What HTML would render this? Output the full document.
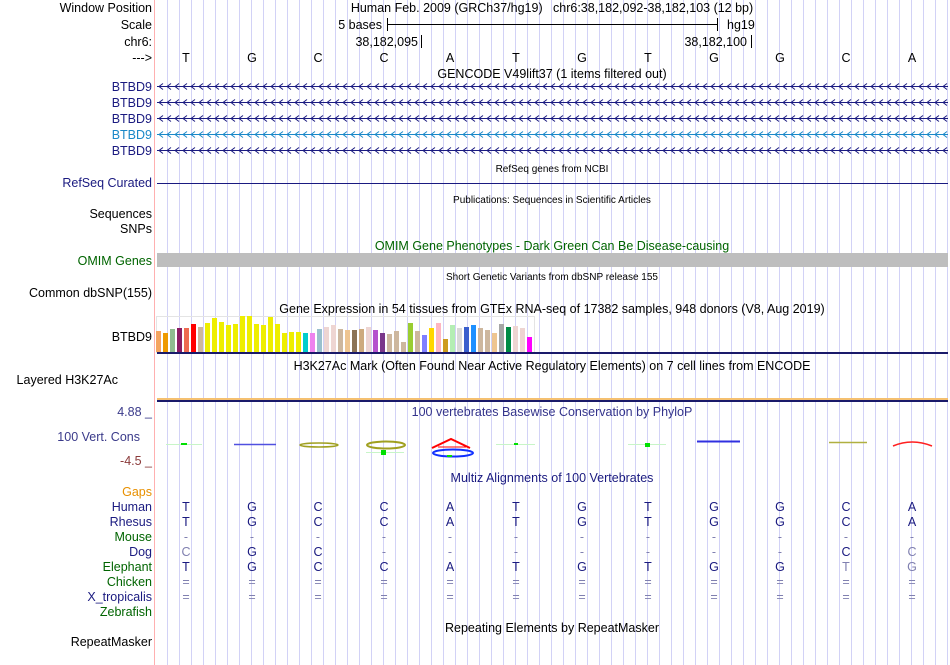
<!DOCTYPE html>
<html><head><meta charset="utf-8"><style>
html,body{margin:0;padding:0;background:#fff;}
svg{display:block;font-family:"Liberation Sans",sans-serif;}
</style></head><body>
<svg id="c" width="950" height="665" viewBox="0 0 950 665">
<g id="grid"></g>
<line x1="154.5" y1="0" x2="154.5" y2="665" stroke="#ffb0b0" stroke-width="1"/>
<g font-size="12.5" text-anchor="end" fill="#000">
<text x="152" y="12">Window Position</text>
<text x="152" y="29">Scale</text>
<text x="152" y="46">chr6:</text>
<text x="152" y="62">---&gt;</text>
<text x="152" y="91" fill="#1a1a80">BTBD9</text>
<text x="152" y="107" fill="#1a1a80">BTBD9</text>
<text x="152" y="123" fill="#1a1a80">BTBD9</text>
<text x="152" y="139" fill="#1a88c8">BTBD9</text>
<text x="152" y="155" fill="#1a1a80">BTBD9</text>
<text x="152" y="187" fill="#1a1a80">RefSeq Curated</text>
<text x="152" y="218">Sequences</text>
<text x="152" y="233">SNPs</text>
<text x="152" y="265" fill="#006400">OMIM Genes</text>
<text x="152" y="297">Common dbSNP(155)</text>
<text x="152" y="341">BTBD9</text>
<text x="118" y="384">Layered H3K27Ac</text>
<text x="140" y="441" fill="#3a3a8a">100 Vert. Cons</text>
<text x="152" y="416" fill="#3a3a8a">4.88 _</text>
<text x="152" y="465" fill="#8b3a3a">-4.5 _</text>
<text x="152" y="496" fill="#e89000">Gaps</text>
<text x="152" y="511" fill="#1a1a80">Human</text>
<text x="152" y="526" fill="#1a1a80">Rhesus</text>
<text x="152" y="541" fill="#006400">Mouse</text>
<text x="152" y="556" fill="#1a1a80">Dog</text>
<text x="152" y="571" fill="#006400">Elephant</text>
<text x="152" y="586" fill="#006400">Chicken</text>
<text x="152" y="601" fill="#1a1a80">X_tropicalis</text>
<text x="152" y="616" fill="#006400">Zebrafish</text>
<text x="152" y="646">RepeatMasker</text>
</g>
<g font-size="12.5" fill="#000">
<text x="552" y="12" text-anchor="middle">Human Feb. 2009 (GRCh37/hg19) &#160;&#160;chr6:38,182,092-38,182,103 (12 bp)</text>
<text x="382" y="29" text-anchor="end">5 bases</text>
<line x1="387.5" y1="18" x2="387.5" y2="31" stroke="#000"/>
<line x1="387" y1="24.5" x2="718" y2="24.5" stroke="#000"/>
<line x1="717.5" y1="18" x2="717.5" y2="31" stroke="#000"/>
<text x="727" y="29">hg19</text>
<text x="418" y="46" text-anchor="end">38,182,095</text>
<line x1="421.5" y1="35" x2="421.5" y2="48" stroke="#000"/>
<text x="747" y="46" text-anchor="end">38,182,100</text>
<line x1="751.5" y1="35" x2="751.5" y2="48" stroke="#000"/>
<text x="552" y="78" text-anchor="middle">GENCODE V49lift37 (1 items filtered out)</text>
<text x="552" y="172" text-anchor="middle" font-size="10">RefSeq genes from NCBI</text>
<text x="552" y="203" text-anchor="middle" font-size="10">Publications: Sequences in Scientific Articles</text>
<text x="552" y="250" text-anchor="middle" fill="#006400">OMIM Gene Phenotypes - Dark Green Can Be Disease-causing</text>
<text x="552" y="280" text-anchor="middle" font-size="10">Short Genetic Variants from dbSNP release 155</text>
<text x="552" y="313" text-anchor="middle">Gene Expression in 54 tissues from GTEx RNA-seq of 17382 samples, 948 donors (V8, Aug 2019)</text>
<text x="552" y="370" text-anchor="middle">H3K27Ac Mark (Often Found Near Active Regulatory Elements) on 7 cell lines from ENCODE</text>
<text x="552" y="416" text-anchor="middle" fill="#33338b">100 vertebrates Basewise Conservation by PhyloP</text>
<text x="552" y="482" text-anchor="middle" fill="#1a1a80">Multiz Alignments of 100 Vertebrates</text>
<text x="552" y="632" text-anchor="middle">Repeating Elements by RepeatMasker</text>
</g>
<g id="bases" font-size="12.5" fill="#000" text-anchor="middle"></g>
<g id="genes"></g>
<line x1="157" y1="183.5" x2="948" y2="183.5" stroke="#1a1a80"/>
<rect x="157" y="253" width="791" height="14" fill="#bebebe"/>
<rect x="156.5" y="316.5" width="378" height="36" fill="none" stroke="#e4e4e4"/>
<g id="gtex"></g>
<rect x="157" y="352" width="791" height="2" fill="#1a1a6a"/>
<rect x="157" y="398" width="791" height="2" fill="#f5c070"/>
<rect x="157" y="400" width="791" height="2" fill="#1a1a6a"/>
<g id="cons">
<line x1="166" y1="444.5" x2="202" y2="444.5" stroke="#c8f5c8"/><rect x="181" y="443" width="6" height="2" fill="#00e000"/>
<line x1="234" y1="444.5" x2="276" y2="444.5" stroke="#5050e0" stroke-width="1.5"/>
<ellipse cx="319" cy="445" rx="19" ry="2" fill="none" stroke="#a0a020" stroke-width="1.5"/>
<line x1="366" y1="452.5" x2="404" y2="452.5" stroke="#c8f5c8"/>
<ellipse cx="386" cy="445" rx="19" ry="3.5" fill="none" stroke="#a0a020" stroke-width="2"/>
<rect x="381" y="450" width="5" height="5" fill="#00e000"/>
<path d="M432 448 L451 439 L470 448" fill="none" stroke="#ff0000" stroke-width="2"/>
<line x1="438" y1="447" x2="466" y2="447" stroke="#ff0000"/>
<ellipse cx="453" cy="453" rx="20" ry="3.5" fill="none" stroke="#1030ff" stroke-width="2"/>
<rect x="447" y="455" width="5" height="2" fill="#00e000"/>
<line x1="496" y1="444.5" x2="535" y2="444.5" stroke="#c8f5c8"/><rect x="514" y="443" width="4" height="2" fill="#00e000"/>
<line x1="628" y1="444.5" x2="666" y2="444.5" stroke="#c8f5c8"/><rect x="645" y="443" width="5" height="4" fill="#00e000"/>
<line x1="697" y1="441.5" x2="740" y2="441.5" stroke="#3030e0" stroke-width="2"/>
<line x1="829" y1="442.5" x2="867" y2="442.5" stroke="#b0b040" stroke-width="1.5"/>
<path d="M893 446 Q912 438 932 446" fill="none" stroke="#ff2020" stroke-width="1.5"/>
</g>
<g id="multiz" font-size="12.5" text-anchor="middle"></g>
</svg>
<script>
const bases = ["T","G","C","C","A","T","G","T","G","G","C","A"];
const gtexValues = [21,19,23,24,24,28,25,29,34,30,27,28,36,36,28,27,35,28,19,20,20,19,19,23,25,27,23,22,22,23,25,22,19,18,21,10,29,21,17,24,29,13,27,24,25,27,24,22,19,28,25,26,24,15];
const gtexColors = ["#f4a460","#ee9a00","#8fbc8f","#8b1c62","#ee6a50","#ff0000","#cdb79e","#eeee00","#eeee00","#eeee00","#eeee00","#eeee00","#eeee00","#eeee00","#eeee00","#eeee00","#eeee00","#eeee00","#eeee00","#eeee00","#eeee00","#00cdcd","#ee82ee","#9ac0cd","#eed5d2","#eed5d2","#cdb79e","#eec591","#8b7355","#cdaa7d","#eed5d2","#b452cd","#7a378b","#cdb79e","#cdb79e","#cdb79e","#9acd32","#cdb79e","#7f7fff","#ffd700","#ffb6c1","#cd9b1d","#b4eeb4","#d9d9d9","#3a5fcd","#1e90ff","#cdb79e","#cdb79e","#eec591","#a6a6a6","#008b45","#eed5d2","#eed5d2","#ff00ff"];
const species = ["Human","Rhesus","Mouse","Dog","Elephant","Chicken","X_tropicalis"];
const alignRows = [
 "TGCCATGTGGCA",
 "TGCCATGTGGCA",
 "------------",
 "CGC-------CC",
 "TGCCATGTGGTG",
 "============",
 "============"];
const lightMask = [
 "000000000000",
 "000000000000",
 "111111111111",
 "100111111101",
 "000000000011",
 "111111111111",
 "111111111111"];
const NS="http://www.w3.org/2000/svg";
const baseX = i => 186 + i*66;
const gtexX = i => 156 + i*7;
const gtexY = v => 352 - v;
function mk(tag, attrs, parent){const e=document.createElementNS(NS,tag);for(const k in attrs)e.setAttribute(k,attrs[k]);parent.appendChild(e);return e;}
const grid=document.getElementById('grid');
for(let x=167;x<950;x+=12){
 const l=mk('line',{x1:x+0.5,y1:0,x2:x+0.5,y2:665,stroke:'#d2d2f6'},grid);
 
 
}
const bg=document.getElementById('bases');
bases.forEach((b,i)=>{const t=mk('text',{x:baseX(i),y:62},bg);t.textContent=b;
 
 });
const genes=document.getElementById('genes');
[86,102,118,134,150].forEach((y,r)=>{
 const col=r===3?'#1a88c8':'#1a1a80';
 const g=mk('g',{},genes);
 
 
 mk('line',{x1:157,y1:y+0.5,x2:948,y2:y+0.5,stroke:col},g);
 let d='';for(let x=159;x<948;x+=8){d+='M'+(x+4)+' '+(y-2.5)+'L'+x+' '+(y+0.5)+'L'+(x+4)+' '+(y+3.5);}
 mk('path',{d:d,fill:'none',stroke:col,'stroke-width':1},g);
});
const gt=document.getElementById('gtex');
gtexValues.forEach((v,i)=>{const r=mk('rect',{x:gtexX(i),y:gtexY(v),width:5,height:v,fill:gtexColors[i]},gt);
 
 });
const mz=document.getElementById('multiz');
alignRows.forEach((row,r)=>{for(let i=0;i<row.length;i++){
 const light=lightMask[r][i]==='1';
 const t=mk('text',{x:baseX(i),y:511+r*15,fill:light?'#8080b0':'#1a1a80'},mz);t.textContent=row[i];
 
 }});
</script>
</body></html>
